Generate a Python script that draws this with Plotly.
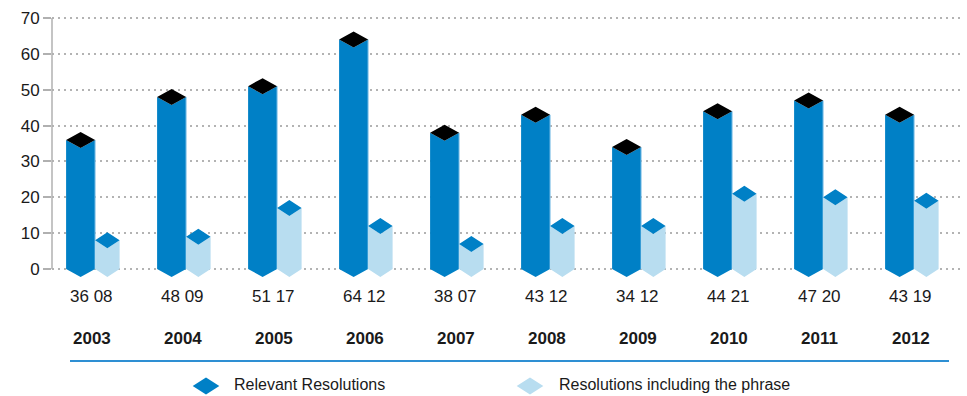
import plotly.graph_objects as go

# ---- data -----------------------------------------------------------------
years = ["2003", "2004", "2005", "2006", "2007", "2008", "2009", "2010", "2011", "2012"]
relevant_resolutions = [36, 48, 51, 64, 38, 43, 34, 44, 47, 43]
phrase_resolutions = [8, 9, 17, 12, 7, 12, 12, 21, 20, 19]
y_tick_values = [0, 10, 20, 30, 40, 50, 60, 70]
series_names = ["Relevant Resolutions", "Resolutions including the phrase"]

# ---- styling --------------------------------------------------------------
DARK = "#0080c6"
LIGHT = "#b8ddf0"
DARK_TOP = "#000000"
LIGHT_TOP = "#0080c6"
EDGE = "#8cc7ea"
RULE = "#2e8fd3"
TEXT = "#1a1a1a"
FONT = "Liberation Sans, Arial, sans-serif"

W, H = 967, 396
M_L, M_R, M_T, M_B = 52, 4, 14, 96
PLOT_W = W - M_L - M_R
PLOT_H = H - M_T - M_B

# horizontal scale: one category step in pixels, first category centre offset
CAT_PX = 91.0
FIRST_PX = 39.6
x_range = [-FIRST_PX / CAT_PX, (PLOT_W - FIRST_PX) / CAT_PX]

# vertical scale: 0 at pixel 269, 70 at pixel 18
UNIT_PX = (269 - 18) / 70.0
y_top = 70 + (18 - M_T) / UNIT_PX
y_bottom = -((M_T + PLOT_H) - 269) / UNIT_PX

DEPTH = 8 / UNIT_PX          # half-height of the diamond cross-section
DARK_L, DARK_R = -25.5 / CAT_PX, 3.5 / CAT_PX
LIGHT_L, LIGHT_R = 3.5 / CAT_PX, 28.0 / CAT_PX


def prism(xl, xr, v):
    """Front body and top face of a diamond-section column."""
    xc = (xl + xr) / 2
    body = [(xl, v), (xc, v - DEPTH), (xr, v), (xr, 0), (xc, -DEPTH), (xl, 0), (xl, v)]
    top = [(xl, v), (xc, v + DEPTH), (xr, v), (xc, v - DEPTH), (xl, v)]
    return body, top


def collect(polys):
    xs, ys = [], []
    for poly in polys:
        xs += [p[0] for p in poly] + [None]
        ys += [p[1] for p in poly] + [None]
    return xs, ys


dark_bodies, dark_tops, light_bodies, light_tops = [], [], [], []
edge_x, edge_y = [], []
for i, (a, b) in enumerate(zip(relevant_resolutions, phrase_resolutions)):
    body, top = prism(i + DARK_L, i + DARK_R, a)
    dark_bodies.append(body)
    dark_tops.append(top)
    edge_x += [i + DARK_R, i + DARK_R, None]
    edge_y += [0, a, None]
    body, top = prism(i + LIGHT_L, i + LIGHT_R, b)
    light_bodies.append(body)
    light_tops.append(top)

fig = go.Figure()


def add_fill(polys, color):
    xs, ys = collect(polys)
    fig.add_trace(go.Scatter(x=xs, y=ys, mode="lines", fill="toself",
                             fillcolor=color, line=dict(width=0, color=color),
                             hoverinfo="skip", showlegend=False))


add_fill(dark_bodies, DARK)
fig.add_trace(go.Scatter(x=edge_x, y=edge_y, mode="lines",
                         line=dict(width=1, color=EDGE),
                         hoverinfo="skip", showlegend=False))
add_fill(dark_tops, DARK_TOP)
add_fill(light_bodies, LIGHT)
add_fill(light_tops, LIGHT_TOP)


def py2paper(py):
    return (M_T + PLOT_H - py) / PLOT_H


def px2paper(px):
    return (px - M_L) / PLOT_W


annotations = []
for i, (yr, a, b) in enumerate(zip(years, relevant_resolutions, phrase_resolutions)):
    annotations.append(dict(x=i, y=py2paper(296), xref="x", yref="paper",
                            text=f"{a} {b:02d}", showarrow=False,
                            xanchor="center", yanchor="middle",
                            font=dict(family=FONT, size=17, color=TEXT)))
    annotations.append(dict(x=i, y=py2paper(338), xref="x", yref="paper",
                            text=f"<b>{yr}</b>", showarrow=False,
                            xanchor="center", yanchor="middle",
                            font=dict(family=FONT, size=17, color=TEXT)))

# legend entries
legend_items = [(206, 232, DARK, series_names[0]), (530, 557, LIGHT, series_names[1])]
shapes = []
for cx, tx, color, name in legend_items:
    cy = 386
    hw, hh = 13.3, 8.5
    path = (f"M {px2paper(cx - hw)} {py2paper(cy)} L {px2paper(cx)} {py2paper(cy - hh)} "
            f"L {px2paper(cx + hw)} {py2paper(cy)} L {px2paper(cx)} {py2paper(cy + hh)} Z")
    shapes.append(dict(type="path", path=path, xref="paper", yref="paper",
                       fillcolor=color, line=dict(width=0)))
    annotations.append(dict(x=px2paper(tx), y=py2paper(384), xref="paper", yref="paper",
                            text=name, showarrow=False, xanchor="left", yanchor="middle",
                            font=dict(family=FONT, size=16, color=TEXT)))

# y axis line (0..70) and the blue rule under the year labels
shapes.append(dict(type="line", xref="paper", yref="y", x0=0, x1=0, y0=0, y1=70,
                   line=dict(color="#b0b0b0", width=1.5)))
shapes.append(dict(type="line", xref="paper", yref="paper",
                   x0=px2paper(70), x1=px2paper(949), y0=py2paper(361), y1=py2paper(361),
                   line=dict(color=RULE, width=2)))

fig.update_layout(
    width=W, height=H,
    margin=dict(l=M_L, r=M_R, t=M_T, b=M_B, pad=0),
    paper_bgcolor="white", plot_bgcolor="white",
    showlegend=False,
    font=dict(family=FONT, color=TEXT),
    xaxis=dict(range=x_range, visible=False, fixedrange=True),
    yaxis=dict(range=[y_bottom, y_top], tickvals=y_tick_values,
               ticktext=[str(v) for v in y_tick_values],
               showgrid=True, gridcolor="#b3b3b3", gridwidth=1.5, griddash="2px,4px",
               zeroline=False, showline=False,
               ticks="outside", ticklen=8, tickwidth=1.5, tickcolor="#b0b0b0",
               tickfont=dict(family=FONT, size=17, color=TEXT), fixedrange=True),
    annotations=annotations,
    shapes=shapes,
)

fig.write_html("out.html")
